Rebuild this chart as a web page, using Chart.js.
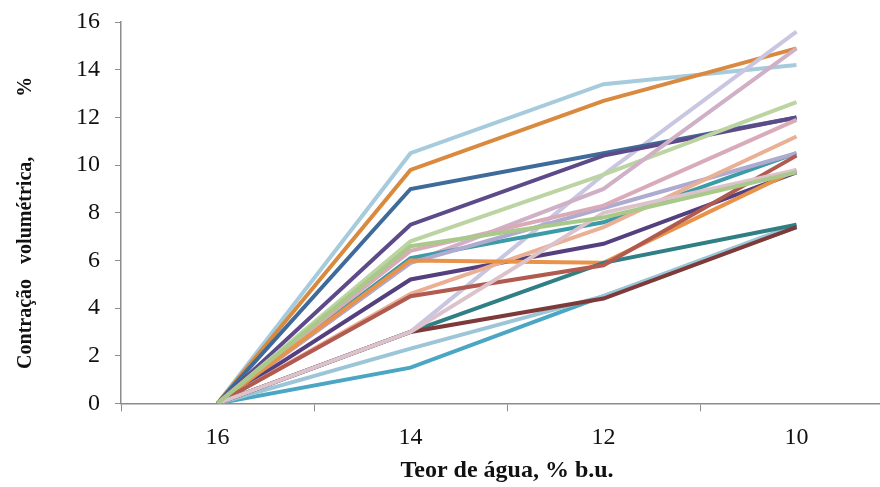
<!DOCTYPE html>
<html>
<head>
<meta charset="utf-8">
<script src="https://cdn.jsdelivr.net/npm/chart.js@4/dist/chart.umd.min.js"></script>
<style>
    body { margin: 0; overflow: hidden; background: #fff; }
    #caja { width: 893px; height: 487px; }
</style>
</head>
<body>
<div id="caja"><canvas id="myChart" width="893" height="487"></canvas></div>
<script>

var teores = ['16', '14', '12', '10'];
var tituloX = 'Teor de água, % b.u.';
var tituloY = 'Contração   volumétrica,            %    ';

var s1 = [0, 10.5, 13.4, 14.2];
var s2 = [0, 9.8, 12.7, 14.9];
var s3 = [0, 9.0, 10.5, 12.0];
var s4 = [0, 7.5, 10.4, 12.0];
var s5 = [0, 6.8, 9.6, 12.65];
var s6 = [0, 3.0, 9.6, 15.6];
var s7 = [0, 5.9, 9.0, 14.9];
var s8 = [0, 6.1, 7.6, 10.5];
var s9 = [0, 6.0, 5.9, 9.8];
var s10 = [0, 5.9, 8.2, 10.5];
var s11 = [0, 5.2, 6.7, 9.7];
var s12 = [0, 4.6, 7.4, 11.2];
var s13 = [0, 4.5, 5.8, 10.4];
var s14 = [0, 6.4, 8.3, 11.9];
var s15 = [0, 3.0, 8.0, 9.8];
var s16 = [0, 3.0, 5.9, 7.5];
var s17 = [0, 3.0, 4.4, 7.4];
var s18 = [0, 2.3, 4.5, 7.5];
var s19 = [0, 1.5, 4.5, 7.4];
var s20 = [0, 6.6, 7.8, 9.7];

var series = [s20, s15, s17, s13, s16, s9, s18, s12, s11, s14, s10, s8, s7, s5, s4, s3, s19, s6, s2, s1];
var cores = ['#a9c98a', '#dcc3cb', '#7d3a38', '#b05a50', '#2f7f84', '#e8924a', '#9cc6d8', '#eab095',
             '#54407f', '#d9aab8', '#aeaad0', '#3d9ba8', '#cfb0c6', '#bcd4a2', '#5c4b88', '#3f6b9b',
             '#4aa6c2', '#c9c6e2', '#d98a3e', '#a6cbdc'];

var ctx = document.getElementById('myChart');
var fuente = "'Liberation Serif', 'Times New Roman', serif";

var conjuntos = [];
series.forEach(function(x, i){
    conjuntos.push({
        label: 'serie ' + (i + 1),
        data: x,
        borderColor: cores[i],
        borderWidth: 4,
        pointRadius: 0,
        pointHoverRadius: 0,
        tension: 0,
        fill: false
    });
});

var chart = new Chart(ctx, {
    type: 'line',
    data: {
        labels: teores,
        datasets: conjuntos
    },
    options: {
        responsive: false,
        animation: false,
        devicePixelRatio: 1,
        layout: { autoPadding: false, padding: { left: 14, right: 0, top: 16, bottom: 2 } },
        plugins: {
            legend: { display: false },
            tooltip: { enabled: false }
        },
        scales: {
            x: {
                offset: true,
                grid: { offset: true, drawOnChartArea: false, color: '#8c8c8c', tickLength: 8 },
                border: { color: '#8c8c8c', width: 1.5 },
                ticks: { color: '#111', font: { family: fuente, size: 24 }, padding: 12 },
                title: {
                    display: true,
                    text: tituloX,
                    color: '#111',
                    font: { family: fuente, size: 24, weight: 'bold' },
                    padding: { top: -8, bottom: 0 }
                }
            },
            y: {
                min: 0,
                max: 16,
                grid: { drawOnChartArea: false, color: '#8c8c8c', tickLength: 6 },
                border: { color: '#8c8c8c', width: 1.5 },
                ticks: { stepSize: 2, color: '#111', font: { family: fuente, size: 24, lineHeight: 0.6 }, padding: 15 },
                title: {
                    display: true,
                    text: tituloY,
                    color: '#111',
                    font: { family: fuente, size: 20, weight: 'bold' },
                    padding: { top: 0, bottom: 23 }
                }
            }
        }
    }
});

</script>
</body>
</html>
